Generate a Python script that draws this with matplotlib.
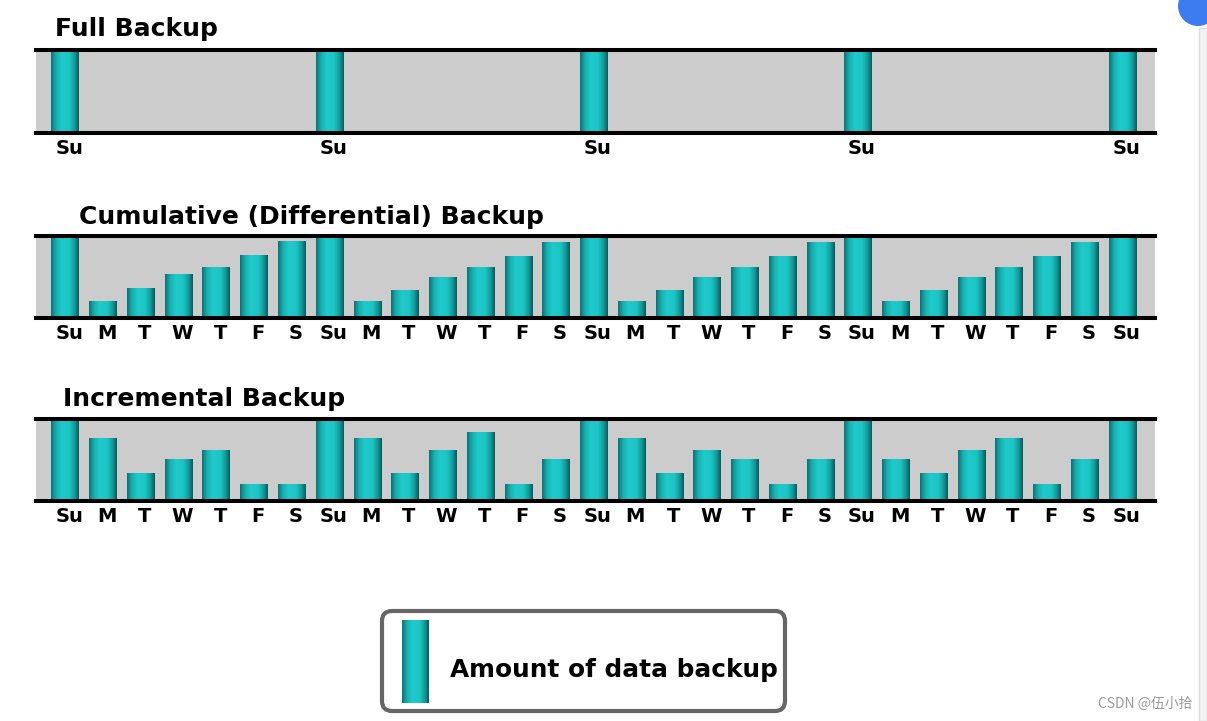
import matplotlib
matplotlib.use('Agg')
import matplotlib.pyplot as plt
import matplotlib.transforms as mtransforms
import numpy as np
from matplotlib.colors import LinearSegmentedColormap
from matplotlib.patches import FancyBboxPatch, Circle, Rectangle

# day labels for 4 weeks plus the closing Sunday
days = ['Su', 'M', 'T', 'W', 'T', 'F', 'S'] * 4 + ['Su']

# relative amount of data backed up each day (1.0 = full backup)
full = [1.0, 0, 0, 0, 0, 0, 0,
        1.0, 0, 0, 0, 0, 0, 0,
        1.0, 0, 0, 0, 0, 0, 0,
        1.0, 0, 0, 0, 0, 0, 0,
        1.0]
cumulative = [1.0, 0.18, 0.35, 0.53, 0.62, 0.78, 0.95,
              1.0, 0.18, 0.33, 0.50, 0.62, 0.76, 0.94,
              1.0, 0.18, 0.33, 0.50, 0.62, 0.76, 0.94,
              1.0, 0.18, 0.33, 0.50, 0.62, 0.76, 0.94,
              1.0]
incremental = [1.0, 0.77, 0.33, 0.50, 0.62, 0.18, 0.18,
               1.0, 0.77, 0.33, 0.62, 0.85, 0.18, 0.50,
               1.0, 0.77, 0.33, 0.62, 0.50, 0.18, 0.50,
               1.0, 0.50, 0.33, 0.62, 0.77, 0.18, 0.50,
               1.0]

titles = ['Full Backup', 'Cumulative (Differential) Backup', 'Incremental Backup']
legend_label = 'Amount of data backup'

W, H = 1207, 721
fig = plt.figure(figsize=(W / 100, H / 100), dpi=100)
fig.patch.set_facecolor('white')

cyl = LinearSegmentedColormap.from_list(
    'cyl', [(0, '#0c7475'), (0.18, '#17b0b0'), (0.38, '#1fcaca'),
            (0.65, '#1dc6c6'), (0.85, '#139a9a'), (1, '#0a5c5c')])
grad = np.linspace(0, 1, 64).reshape(1, -1)


def px_axes(x0, y0, x1, y1):
    return fig.add_axes([x0 / W, 1 - y1 / H, (x1 - x0) / W, (y1 - y0) / H])


def cyl_bar(ax, x0, x1, y0, y1):
    ax.imshow(grad, cmap=cyl, extent=[x0, x1, y0, y1], aspect='auto',
              interpolation='bilinear', zorder=2)


# overlay axes in pixel coordinates for titles, legend, page decorations
over = fig.add_axes([0, 0, 1, 1], zorder=0)
over.set_xlim(0, W)
over.set_ylim(H, 0)
over.axis('off')

panels = [(full, 50, 133, [i for i, d in enumerate(days) if d == 'Su']),
          (cumulative, 236, 318, list(range(len(days)))),
          (incremental, 419, 501, list(range(len(days))))]
title_pos = [(55, 36), (79, 224), (63, 406)]

# labels sit a few pixels right of the bar centres
shift = mtransforms.ScaledTranslation(0.04, 0, fig.dpi_scale_trans)

bw = 0.72
for (vals, top, bot, ticks), title, (tx, ty) in zip(panels, titles, title_pos):
    ax = px_axes(36, top, 1155, bot)
    ax.set_facecolor('#cccccc')
    for i, v in enumerate(vals):
        if v > 0:
            cyl_bar(ax, i - bw / 2, i + bw / 2, 0, v)
    ax.set_xlim(-0.77, 28.87)
    gray_h = bot - top - 4
    ax.set_ylim(-2 / gray_h, 1 + 2 / gray_h)
    for s in ['left', 'right']:
        ax.spines[s].set_visible(False)
    for s in ['top', 'bottom']:
        ax.spines[s].set_linewidth(2.9)
        ax.spines[s].set_color('black')
        ax.spines[s].set_zorder(5)
    ax.set_yticks([])
    ax.set_xticks(ticks, [days[i] for i in ticks], fontsize=14, fontweight='bold')
    ax.tick_params(axis='x', length=0, pad=4)
    for lab in ax.get_xticklabels():
        lab.set_transform(lab.get_transform() + shift)
    over.text(tx, ty, title, fontsize=18, fontweight='bold', va='baseline', ha='left')

# legend box
box = FancyBboxPatch((382, 611), 403, 100, boxstyle='round,pad=0,rounding_size=10',
                     facecolor='white', edgecolor='#666666', linewidth=3)
over.add_patch(box)
over.imshow(grad, cmap=cyl, extent=[402, 429, 703, 620], aspect='auto',
            interpolation='bilinear', zorder=3)
over.text(450, 677, legend_label, fontsize=17.8, fontweight='bold', va='baseline', ha='left')

# page decorations: scrollbar edge, floating icon, watermark
over.add_patch(Rectangle((1199, 28), 8, H - 28, facecolor='#f2f2f2', edgecolor='#dddddd', lw=1))
over.add_patch(Circle((1198, 6), 20, facecolor='#3d7cf0', edgecolor='none', zorder=4))
over.text(1192, 704, 'CSDN @伍小拾', fontsize=10, color='#999999', ha='right', va='center',
          family=['Noto Sans CJK SC', 'DejaVu Sans'])
over.set_xlim(0, W)
over.set_ylim(H, 0)

fig.savefig('out.png', dpi=100)
